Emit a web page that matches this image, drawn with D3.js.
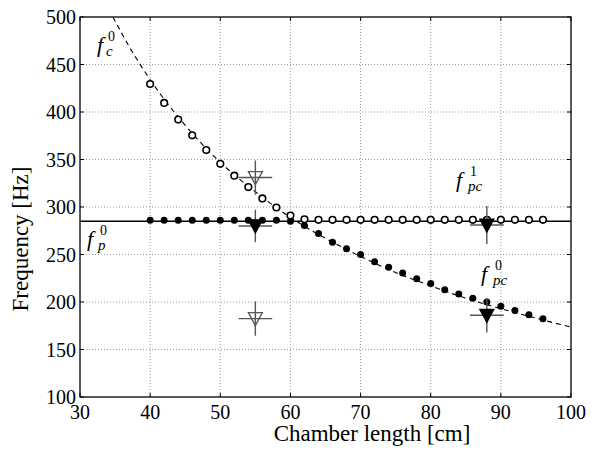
<!DOCTYPE html>
<meta charset="utf-8">
<style>
    body { margin: 0; background: #fff; }
    .grid line { stroke: #9a9a9a; stroke-dasharray: 1, 2; stroke-width: 1; }
</style>
<body>
<script src="https://cdn.jsdelivr.net/npm/d3@7/dist/d3.min.js"></script>
<script>

    // x ticks / y ticks
    var xTicks = [30, 40, 50, 60, 70, 80, 90, 100],
        yTicks = [100, 150, 200, 250, 300, 350, 400, 450, 500];

    // dashed curve f_c^0
    var curveL = [34.7, 37, 40, 45, 50, 55, 60, 65, 70, 75, 80, 85, 90, 95, 100],
        curveF = [500, 469, 434, 386, 347, 316, 289, 267, 248, 231, 217, 204, 193, 183, 173.5];

    // f_p^0 horizontal line
    var fp0 = 285;

    // open circles (upper branch)
    var openL = [40, 42, 44, 46, 48, 50, 52, 54, 56, 58, 60, 62, 64, 66, 68, 70, 72, 74, 76, 78, 80, 82, 84, 86, 88, 90, 92, 94, 96],
        openF = [429.5, 409.5, 392, 375.5, 360, 345.5, 333, 321, 309, 299.5, 291, 287, 286.5, 286.5, 286.5, 286.5, 286.5, 286.5, 286.5, 286.5, 286.5, 286.5, 286.5, 286.5, 286.5, 286.5, 286.5, 286.5, 286.5];

    // filled circles (lower branch)
    var fillL = [40, 42, 44, 46, 48, 50, 52, 54, 56, 58, 60, 62, 64, 66, 68, 70, 72, 74, 76, 78, 80, 82, 84, 86, 88, 90, 92, 94, 96],
        fillF = [286, 286, 286, 286, 286, 286, 286, 286, 286, 286, 285, 280.5, 272, 263, 256, 250, 242.5, 236.5, 230.5, 224.5, 219.5, 213, 208.5, 204, 200, 195.5, 191, 186.5, 182.5];

    // measured points with error bars
    var measL = [55, 55, 55, 88, 88],
        measF = [331, 280, 182.5, 186, 281],
        measFill = [false, true, false, true, true],
        errL = [2.4, 2.4, 2.4, 2.4, 2.4],
        errF = [18, 17, 18, 18, 20];

    var W = 595, H = 450;
    var margin = {top: 17, right: 24, bottom: 53, left: 80},
        width = W - margin.left - margin.right,
        height = H - margin.top - margin.bottom;

    var serif = "'Liberation Serif', 'DejaVu Serif', 'Noto Serif', 'Times New Roman', serif";

    var x = d3.scaleLinear().domain([30, 100]).range([0, width]);
    var y = d3.scaleLinear().domain([100, 500]).range([height, 0]);

    var svg = d3.select("body").append("svg")
            .attr("width", W)
            .attr("height", H)
            .attr("font-family", serif);

    var g = svg.append("g")
            .attr("transform", "translate(" + margin.left + "," + margin.top + ")");

    g.append("clipPath").attr("id", "clip")
        .append("rect").attr("width", width).attr("height", height);

    // grid
    var grid = g.append("g").attr("class", "grid");
    grid.selectAll("line.gx").data(xTicks.slice(1, -1)).enter().append("line")
            .attr("x1", x).attr("x2", x).attr("y1", 0).attr("y2", height);
    grid.selectAll("line.gy").data(yTicks.slice(1, -1)).enter().append("line")
            .attr("y1", y).attr("y2", y).attr("x1", 0).attr("x2", width);

    // inward ticks on all sides
    var tk = g.append("g").attr("stroke", "#000").attr("stroke-width", 1);
    xTicks.forEach(function(t) {
        tk.append("line").attr("x1", x(t)).attr("x2", x(t)).attr("y1", height).attr("y2", height - 4);
        tk.append("line").attr("x1", x(t)).attr("x2", x(t)).attr("y1", 0).attr("y2", 4);
    });
    yTicks.forEach(function(t) {
        tk.append("line").attr("y1", y(t)).attr("y2", y(t)).attr("x1", 0).attr("x2", 4);
        tk.append("line").attr("y1", y(t)).attr("y2", y(t)).attr("x1", width).attr("x2", width - 4);
    });

    // tick labels
    g.selectAll("text.xt").data(xTicks).enter().append("text")
            .attr("font-size", 20)
            .attr("x", x).attr("y", height + 22)
            .attr("text-anchor", "middle")
            .text(function(d) { return d; });
    g.selectAll("text.yt").data(yTicks).enter().append("text")
            .attr("font-size", 20)
            .attr("x", -4).attr("y", function(d) { return y(d) + 7; })
            .attr("text-anchor", "end")
            .text(function(d) { return d; });

    var plot = g.append("g").attr("clip-path", "url(#clip)");

    // f_p^0 line
    plot.append("line")
            .attr("x1", 0).attr("x2", width)
            .attr("y1", y(fp0)).attr("y2", y(fp0))
            .attr("stroke", "#000").attr("stroke-width", 1.3);

    // dashed f_c^0 curve
    var line = d3.line()
            .x(function(d, i) { return x(curveL[i]); })
            .y(function(d) { return y(d); })
            .curve(d3.curveMonotoneX);
    plot.append("path")
            .attr("d", line(curveF))
            .attr("fill", "none")
            .attr("stroke", "#000")
            .attr("stroke-width", 1.1)
            .attr("stroke-dasharray", "5,4");

    // filled circles
    plot.selectAll("circle.f").data(fillF).enter().append("circle")
            .attr("cx", function(d, i) { return x(fillL[i]); })
            .attr("cy", y)
            .attr("r", 3.5)
            .attr("fill", "#000");

    // open circles
    plot.selectAll("circle.o").data(openF).enter().append("circle")
            .attr("cx", function(d, i) { return x(openL[i]); })
            .attr("cy", y)
            .attr("r", 3.3)
            .attr("fill", "#fff")
            .attr("stroke", "#000")
            .attr("stroke-width", 1.6);

    // measurements with error bars
    var meas = plot.selectAll("g.meas").data(measF).enter().append("g")
            .attr("transform", function(d, i) { return "translate(" + x(measL[i]) + "," + y(d) + ")"; });
    meas.append("line")
            .attr("x1", function(d, i) { return x(measL[i] - errL[i]) - x(measL[i]); })
            .attr("x2", function(d, i) { return x(measL[i] + errL[i]) - x(measL[i]); })
            .attr("y1", 0).attr("y2", 0)
            .attr("stroke", "#555").attr("stroke-width", 1.4);
    meas.append("line")
            .attr("y1", function(d, i) { return y(d + errF[i]) - y(d); })
            .attr("y2", function(d, i) { return y(d - errF[i]) - y(d); })
            .attr("x1", 0).attr("x2", 0)
            .attr("stroke", "#555").attr("stroke-width", 1.4);
    meas.append("path")
            .attr("d", "M-7,-6L7,-6L0,7Z")
            .attr("fill", function(d, i) { return measFill[i] ? "#000" : "none"; })
            .attr("stroke", function(d, i) { return measFill[i] ? "#000" : "#555"; })
            .attr("stroke-width", 1.3);

    // frame
    g.append("rect")
            .attr("width", width).attr("height", height)
            .attr("fill", "none").attr("stroke", "#000").attr("stroke-width", 1.3);

    // axis labels
    svg.append("text")
            .attr("font-size", 23)
            .attr("x", 372).attr("y", 441)
            .attr("text-anchor", "middle")
            .text("Chamber length [cm]");
    svg.append("text")
            .attr("font-size", 23)
            .attr("text-anchor", "middle")
            .attr("transform", "translate(28,239) rotate(-90)")
            .text("Frequency [Hz]");

    // mode labels: italic f with stacked superscript and subscript
    function modeLabel(px, py, sup, sub, dx) {
        svg.append("text").attr("x", px).attr("y", py)
                .attr("font-style", "italic")
                .attr("font-size", 22).text("f");
        svg.append("text").attr("x", px + dx).attr("y", py - 11)
                .attr("font-size", 14).text(sup);
        svg.append("text").attr("x", px + dx - 2).attr("y", py + 4)
                .attr("font-style", "italic")
                .attr("font-size", 15).text(sub);
    }
    modeLabel(97, 52, "0", "c", 11);
    modeLabel(87, 246, "0", "p", 13);
    modeLabel(456, 187, "1", "pc", 14);
    modeLabel(481, 281, "0", "pc", 14);

</script>
</body>
